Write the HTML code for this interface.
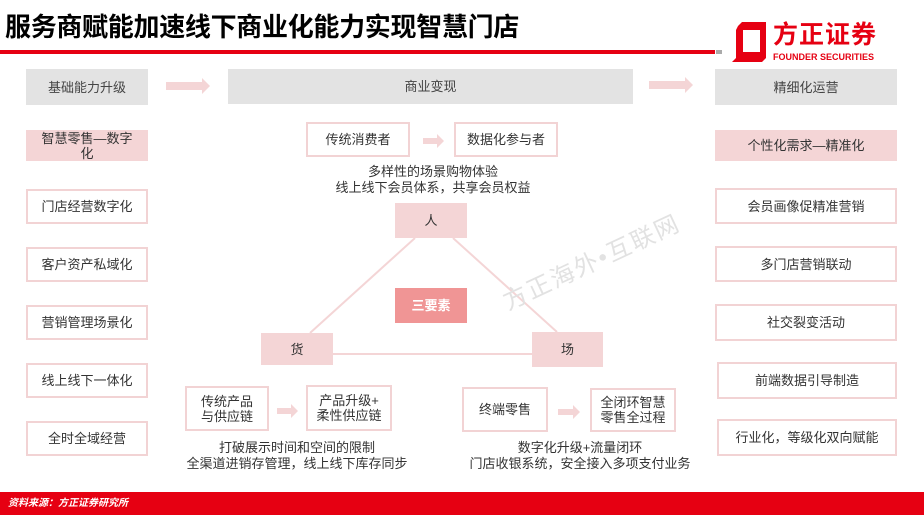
<!DOCTYPE html>
<html><head><meta charset="utf-8">
<style>
*{margin:0;padding:0;box-sizing:border-box}
body{width:924px;height:515px;position:relative;overflow:hidden;background:#fff;font-family:"Liberation Sans","Noto Sans CJK SC",sans-serif;color:#333}
.b{position:absolute;display:flex;align-items:center;justify-content:center;text-align:center;font-size:13px;line-height:15px}
.g{background:#e3e3e3;color:#444}
.p{background:#f4d5d6;color:#333}
.o{border:2px solid #f2d3d4;background:#fff;color:#333}
.t{position:absolute;text-align:center;font-size:13px;line-height:16px;color:#333;white-space:nowrap}
</style></head><body>
<div style="position:absolute;left:5px;top:10px;font-size:26px;font-weight:bold;color:#000;letter-spacing:-0.3px;line-height:34px">服务商赋能加速线下商业化能力实现智慧门店</div>
<div style="position:absolute;left:0;top:50px;width:715px;height:4px;background:#e60012"></div>
<div style="position:absolute;left:716px;top:50px;width:6px;height:4px;background:#aaa"></div>
<svg style="position:absolute;left:730px;top:22px" width="40" height="40" viewBox="0 0 40 40"><path d="M8 4L12 0H36V36L32 40H2L6 36V8Z" fill="#e60012"/><path d="M13 8H30V30H13Z" fill="#fff"/></svg>
<div style="position:absolute;left:773px;top:20px;font-size:25px;font-weight:bold;color:#e60012;line-height:30px;letter-spacing:1px">方正证券</div>
<div style="position:absolute;left:773px;top:52px;font-size:9px;font-weight:bold;color:#e60012;line-height:10px">FOUNDER SECURITIES</div>

<div class="b g" style="left:26px;top:69px;width:122px;height:36px">基础能力升级</div>
<div class="b g" style="left:228px;top:69px;width:405px;height:35px">商业变现</div>
<div class="b g" style="left:715px;top:69px;width:182px;height:36px">精细化运营</div>
<svg style="position:absolute;left:0;top:0" width="924" height="515">
<polygon points="166,82 202,82 202,78 210,86 202,94 202,90 166,90" fill="#f4d5d6"/>
<polygon points="649,81 685,81 685,77 693,85 685,93 685,89 649,89" fill="#f4d5d6"/>
<polygon points="423,138 437,138 437,134 444,141 437,148 437,144 423,144" fill="#f4d5d6"/>
<polygon points="277,408 291,408 291,404 298,411 291,418 291,414 277,414" fill="#f4d5d6"/>
<polygon points="558,409 573,409 573,405 580,412 573,419 573,415 558,415" fill="#f4d5d6"/>
<line x1="415" y1="238" x2="310" y2="333" stroke="#f4d5d6" stroke-width="2"/>
<line x1="453" y1="238" x2="557" y2="332" stroke="#f4d5d6" stroke-width="2"/>
<line x1="333" y1="354" x2="532" y2="354" stroke="#f4d5d6" stroke-width="2"/>
</svg>

<div class="b p" style="left:26px;top:130px;width:122px;height:31px">智慧零售—数字<br>化</div>
<div class="b o" style="left:26px;top:189px;width:122px;height:35px">门店经营数字化</div>
<div class="b o" style="left:26px;top:247px;width:122px;height:35px">客户资产私域化</div>
<div class="b o" style="left:26px;top:305px;width:122px;height:35px">营销管理场景化</div>
<div class="b o" style="left:26px;top:363px;width:122px;height:35px">线上线下一体化</div>
<div class="b o" style="left:26px;top:421px;width:122px;height:35px">全时全域经营</div>

<div class="b p" style="left:715px;top:130px;width:182px;height:31px">个性化需求—精准化</div>
<div class="b o" style="left:715px;top:188px;width:182px;height:36px">会员画像促精准营销</div>
<div class="b o" style="left:715px;top:246px;width:182px;height:36px">多门店营销联动</div>
<div class="b o" style="left:715px;top:304px;width:182px;height:37px">社交裂变活动</div>
<div class="b o" style="left:717px;top:362px;width:180px;height:37px">前端数据引导制造</div>
<div class="b o" style="left:717px;top:419px;width:180px;height:37px">行业化，等级化双向赋能</div>

<div class="b o" style="left:306px;top:122px;width:104px;height:35px">传统消费者</div>
<div class="b o" style="left:454px;top:122px;width:104px;height:35px">数据化参与者</div>
<div class="t" style="left:283px;top:164px;width:300px">多样性的场景购物体验<br>线上线下会员体系，共享会员权益</div>
<div class="b p" style="left:395px;top:203px;width:72px;height:35px">人</div>
<div class="b" style="left:395px;top:288px;width:72px;height:35px;background:#f09595;color:#fff;font-weight:bold">三要素</div>
<div class="b p" style="left:261px;top:333px;width:72px;height:32px">货</div>
<div class="b p" style="left:532px;top:332px;width:71px;height:35px">场</div>

<div class="b o" style="left:185px;top:386px;width:84px;height:45px">传统产品<br>与供应链</div>
<div class="b o" style="left:306px;top:385px;width:86px;height:46px">产品升级+<br>柔性供应链</div>
<div class="b o" style="left:462px;top:387px;width:86px;height:45px">终端零售</div>
<div class="b o" style="left:590px;top:388px;width:86px;height:44px">全闭环智慧<br>零售全过程</div>
<div class="t" style="left:147px;top:440px;width:300px">打破展示时间和空间的限制<br>全渠道进销存管理，线上线下库存同步</div>
<div class="t" style="left:430px;top:440px;width:300px">数字化升级+流量闭环<br>门店收银系统，安全接入多项支付业务</div>

<div style="position:absolute;left:505px;top:290px;font-size:24px;color:#e2e2e2;transform:rotate(-25deg);transform-origin:left center;white-space:nowrap;letter-spacing:2px;line-height:28px">方正海外•互联网</div>

<div style="position:absolute;left:0;top:492px;width:924px;height:23px;background:#e60012"></div>
<div style="position:absolute;left:8px;top:498px;font-size:10px;color:#fff;font-style:italic;font-weight:bold;line-height:12px">资料来源：方正证券研究所</div>
</body></html>
